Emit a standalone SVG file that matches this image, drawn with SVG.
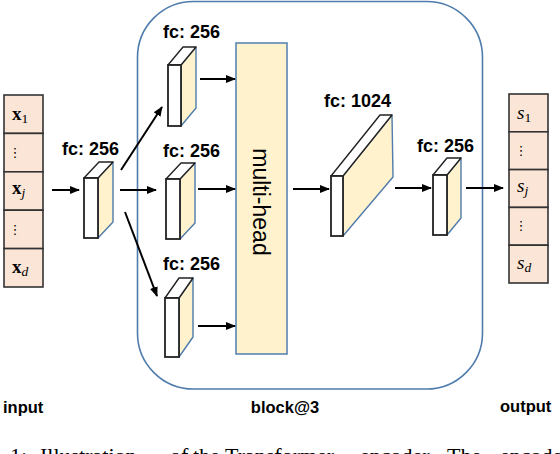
<svg xmlns="http://www.w3.org/2000/svg" width="560" height="454" viewBox="0 0 560 454">
<defs>
<marker id="ah" markerUnits="userSpaceOnUse" markerWidth="10" markerHeight="10" viewBox="0 0 10 10" refX="9" refY="5" orient="auto">
<path d="M0,1 L10,5 L0,9 Z" fill="#000"/>
</marker>
</defs>
<style>
.lbl{font-family:"Liberation Sans",Arial,sans-serif;font-weight:bold;font-size:18px;fill:#000}
.cap{font-family:"Liberation Sans",Arial,sans-serif;font-weight:bold;font-size:16.5px;fill:#000}
.cell{fill:#fbe5d6;stroke:#333;stroke-width:1.6}
.math{font-family:"Liberation Serif","Times New Roman",serif;font-size:19px;fill:#000}
.dots{font-family:"DejaVu Sans",sans-serif;font-size:13px;fill:#000}
.front{fill:#fff;stroke:#222;stroke-width:1.8}
.top{fill:#fff;stroke:#222;stroke-width:1.4;stroke-linejoin:round}
.side{fill:#fff2cc;stroke:#4f7cac;stroke-width:1.4;stroke-linejoin:round}
.arr{stroke:#000;stroke-width:2;fill:none;marker-end:url(#ah)}
.mh{fill:#fff2cc;stroke:#5a85b3;stroke-width:1.6}
</style>
<rect width="560" height="454" fill="#fff"/>

<g id="block3">
<rect x="137.5" y="1.5" width="345" height="387.5" rx="56" ry="56" fill="none" stroke="#4f7cac" stroke-width="1.6"/>
<text class="cap" x="285" y="413" text-anchor="middle">block@3</text>
</g>

<g id="input">
<rect class="cell" x="4" y="95" width="39" height="38.4"/>
<rect class="cell" x="4" y="133.4" width="39" height="38.4"/>
<rect class="cell" x="4" y="171.8" width="39" height="38.4"/>
<rect class="cell" x="4" y="210.2" width="39" height="38.4"/>
<rect class="cell" x="4" y="248.6" width="39" height="38.4"/>
<text class="math" x="12" y="120"><tspan font-weight="bold">x</tspan><tspan font-size="13.5" dy="3">1</tspan></text>
<text class="dots" x="15" y="157" text-anchor="middle">⋮</text>
<text class="math" x="12" y="194"><tspan font-weight="bold">x</tspan><tspan font-size="13.5" font-style="italic" dy="3">j</tspan></text>
<text class="dots" x="15" y="234" text-anchor="middle">⋮</text>
<text class="math" x="12" y="273"><tspan font-weight="bold">x</tspan><tspan font-size="13.5" font-style="italic" dy="3">d</tspan></text>
<text class="cap" x="3" y="413">input</text>
</g>

<g id="fc1">
<polygon class="side" points="98,178 113,162 113,222 98,238"/>
<polygon class="top" points="84,178 98,178 113,162 99,162"/>
<rect class="front" x="84" y="178" width="14" height="60"/>
<text class="lbl" x="62" y="155">fc: 256</text>
</g>

<g id="fc2">
<polygon class="side" points="181,65 196,47 196,108 181,126"/>
<polygon class="top" points="168,65 181,65 196,47 183,47"/>
<rect class="front" x="168" y="65" width="13" height="61"/>
<text class="lbl" x="163" y="38">fc: 256</text>
</g>

<g id="fc3">
<polygon class="side" points="180,179 195,163 195,223 180,239"/>
<polygon class="top" points="166,179 180,179 195,163 181,163"/>
<rect class="front" x="166" y="179" width="14" height="60"/>
<text class="lbl" x="163" y="157">fc: 256</text>
</g>

<g id="fc4">
<polygon class="side" points="179,298 193,278 193,337 179,357"/>
<polygon class="top" points="165,298 179,298 193,278 179,278"/>
<rect class="front" x="165" y="298" width="14" height="59"/>
<text class="lbl" x="163" y="270">fc: 256</text>
</g>

<g id="multihead">
<rect class="mh" x="236" y="43" width="51" height="311"/>
<text x="261" y="202" transform="rotate(90 261 202)" text-anchor="middle" dominant-baseline="central" font-family="Liberation Sans, Arial, sans-serif" font-size="23" fill="#000">multi-head</text>
</g>

<g id="fc1024">
<polygon class="side" points="343,176 392,115 393,177 343,236"/>
<polygon class="top" points="331,176 343,176 392,115 380,115"/>
<rect class="front" x="331" y="176" width="12" height="60"/>
<text class="lbl" x="324" y="107">fc: 1024</text>
</g>

<g id="fc5">
<polygon class="side" points="447,175 461,158 461,218 447,235"/>
<polygon class="top" points="433,175 447,175 461,158 447,158"/>
<rect class="front" x="433" y="175" width="14" height="60"/>
<text class="lbl" x="417" y="152">fc: 256</text>
</g>

<g id="output">
<rect class="cell" x="509" y="94" width="39" height="37.8"/>
<rect class="cell" x="509" y="131.8" width="39" height="37.8"/>
<rect class="cell" x="509" y="169.6" width="39" height="37.8"/>
<rect class="cell" x="509" y="207.4" width="39" height="37.8"/>
<rect class="cell" x="509" y="245.2" width="39" height="37.8"/>
<text class="math" x="517" y="119" font-style="italic">s<tspan font-size="13.5" font-style="normal" dy="3">1</tspan></text>
<text class="dots" x="521" y="155" text-anchor="middle">⋮</text>
<text class="math" x="517" y="192" font-style="italic">s<tspan font-size="13.5" dy="3">j</tspan></text>
<text class="dots" x="521" y="230" text-anchor="middle">⋮</text>
<text class="math" x="517" y="269" font-style="italic">s<tspan font-size="13.5" dy="3">d</tspan></text>
<text class="cap" x="500" y="412">output</text>
</g>

<g id="connectors">
<line class="arr" x1="52" y1="190" x2="79" y2="190"/>
<line class="arr" x1="121" y1="170" x2="162" y2="107"/>
<line class="arr" x1="120" y1="190" x2="156" y2="190"/>
<line class="arr" x1="125" y1="212" x2="157" y2="296"/>
<line class="arr" x1="200" y1="79" x2="235" y2="79"/>
<line class="arr" x1="198" y1="189" x2="235" y2="189"/>
<line class="arr" x1="198" y1="326" x2="235" y2="326"/>
<line class="arr" x1="293" y1="189" x2="329" y2="189"/>
<line class="arr" x1="395" y1="188" x2="431" y2="188"/>
<line class="arr" x1="466" y1="188" x2="503" y2="188"/>
</g>

<text font-family="Liberation Serif, Times New Roman, serif" font-size="22" fill="#000" y="463"><tspan x="10">1:</tspan><tspan x="40">Illustration</tspan><tspan x="170">of</tspan><tspan x="193">the</tspan><tspan x="225">Transformer</tspan><tspan x="360">encoder.</tspan><tspan x="447">The</tspan><tspan x="500">encoder</tspan></text>
</svg>
